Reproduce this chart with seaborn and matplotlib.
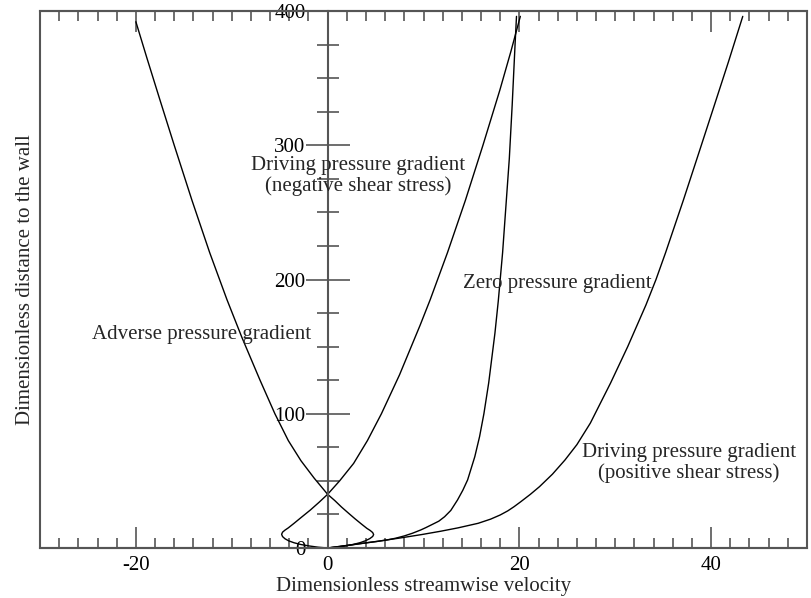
import matplotlib
matplotlib.use("Agg")
import matplotlib.pyplot as plt
from matplotlib.ticker import MultipleLocator
import pandas as pd
import seaborn as sns

# Velocity profiles: streamwise velocity u+ against wall distance y+
adverse_u = [0.0, 1.0, 1.9, 2.7, 3.4, 3.95, 4.4, 4.7, 4.8, 4.7, 4.45, 4.1, 3.5, 2.85, 2.2,
             1.45, 0.75, 0.0, -1.4, -2.78, -4.1, -5.5, -7.05, -8.95, -10.5, -12.3, -14.15,
             -16.0, -17.5, -18.85, -20.0]
adverse_y = [0.0, 0.7, 1.6, 2.7, 4.0, 5.4, 7.0, 8.6, 10.0, 11.5, 13.0, 14.6, 18.0, 21.8, 25.8,
             30.5, 35.3, 40.0, 52.0, 65.0, 80.0, 100.0, 125.0, 157.0, 185.0, 220.0, 259.0,
             300.0, 334.0, 365.0, 392.0]

negative_u = [0.0, -1.0, -1.9, -2.8, -3.5, -4.05, -4.45, -4.7, -4.8, -4.7, -4.45, -4.1, -3.5,
              -2.75, -1.8, -0.9, 0.0, 1.25, 2.71, 4.15, 5.61, 7.5, 9.65, 10.7, 12.5, 14.37,
              16.2, 17.96, 19.12, 20.1]
negative_y = [0.0, 0.6, 1.5, 2.6, 3.9, 5.3, 6.9, 8.5, 10.2, 11.8, 13.3, 15.0, 18.4,
              22.8, 28.3, 34.0, 40.0, 50.0, 63.0, 80.0, 100.0, 129.0, 166.0, 185.0, 220.0, 259.0,
              300.0, 341.0, 370.0, 396.0]

zero_u = [0.0, 1.0, 2.0, 3.0, 4.0, 5.1, 6.2, 7.1, 8.0, 8.85, 9.7, 10.25, 10.9, 11.6, 12.2,
          12.85, 13.55, 14.1, 14.6, 15.35, 15.85, 16.3, 16.8, 17.45, 17.8, 18.25, 18.6, 18.95,
          19.25, 19.55, 19.7]
zero_y = [0.0, 0.9, 1.8, 2.8, 3.8, 4.8, 6.0, 7.3, 9.0, 11.0, 13.4, 15.2, 17.5, 20.0, 23.3,
          28.0, 35.8, 43.0, 50.7, 68.0, 83.0, 100.0, 123.0, 160.0, 184.0, 220.0, 255.0, 290.0,
          330.0, 375.0, 396.0]

positive_u = [0.0, 2.6, 5.2, 7.6, 9.8, 11.8, 13.6, 15.7, 17.0, 18.0, 18.8, 19.45, 20.15, 21.15,
              22.1, 23.45, 24.75, 26.0, 27.4, 28.6, 29.5, 31.3, 33.2, 34.25, 35.25, 37.1,
              38.75, 40.3, 41.8, 43.3]
positive_y = [0.0, 2.5, 5.0, 7.5, 10.0, 12.5, 15.0, 18.4, 21.5, 24.6, 27.7, 30.8, 34.5, 40.0,
              45.7, 55.0, 65.5, 77.0, 93.0, 110.0, 122.7, 150.0, 181.0, 200.0, 220.0, 259.0,
              295.0, 329.0, 362.0, 396.0]

curve_labels = ["Adverse pressure gradient",
                "Driving pressure gradient\n(negative shear stress)",
                "Zero pressure gradient",
                "Driving pressure gradient\n(positive shear stress)"]
label_u = [-13.2, 3.2, 24.0, 37.7]
label_y = [158.7, 277.0, 197.0, 63.3]

x_label = "Dimensionless streamwise velocity"
y_label = "Dimensionless distance to the wall"

frames = []
for name, u, y in [("adverse", adverse_u, adverse_y),
                   ("negative", negative_u, negative_y),
                   ("zero", zero_u, zero_y),
                   ("positive", positive_u, positive_y)]:
    frames.append(pd.DataFrame({"profile": name, "u": u, "y": y}))
df = pd.concat(frames, ignore_index=True)

sns.set_theme(style="white")
plt.rcParams["font.family"] = ["Liberation Serif", "DejaVu Serif"]
plt.rcParams["axes.unicode_minus"] = False

axis_grey = "#555555"
fig = plt.figure(figsize=(8.12, 5.98), dpi=100)
ax = fig.add_axes([40 / 812, 50 / 598, 767 / 812, 537 / 598])

sns.lineplot(data=df, x="u", y="y", units="profile", estimator=None, sort=False,
             color="black", linewidth=1.0, ax=ax)

ax.set_xlim(-30, 50)
ax.set_ylim(0, 400)

# Frame around the plotting area, with the y axis drawn through u = 0
ax.patch.set_edgecolor(axis_grey)
ax.patch.set_linewidth(1.5)
ax.spines["left"].set_position(("data", 0))
ax.spines["right"].set_visible(False)
for side in ("left", "top", "bottom"):
    ax.spines[side].set_color(axis_grey)
    ax.spines[side].set_linewidth(1.5)

ax.xaxis.set_major_locator(MultipleLocator(20))
ax.xaxis.set_minor_locator(MultipleLocator(2))
ax.yaxis.set_major_locator(MultipleLocator(100))
ax.yaxis.set_minor_locator(MultipleLocator(25))

ax.tick_params(axis="x", which="both", direction="in", top=True, bottom=True,
               colors=axis_grey, labelcolor="black", labelsize=15, width=1.2, pad=5.5)
ax.tick_params(axis="x", which="major", length=15)
ax.tick_params(axis="x", which="minor", length=7.5)
ax.tick_params(axis="y", which="both", direction="inout", left=True, right=False,
               colors=axis_grey, labelcolor="black", labelsize=15, width=1.2, pad=0)
ax.tick_params(axis="y", which="major", length=32)
ax.tick_params(axis="y", which="minor", length=16)

ax.set_xlabel(x_label, fontsize=15, labelpad=2)
ax.set_ylabel(y_label, fontsize=15)
ax.yaxis.set_label_coords(-0.0065, 0.5)

for txt, u, y in zip(curve_labels, label_u, label_y):
    ax.text(u, y, txt, fontsize=15, ha="center", va="center",
            multialignment="center", linespacing=1.05)

fig.savefig("out.png", dpi=100)
